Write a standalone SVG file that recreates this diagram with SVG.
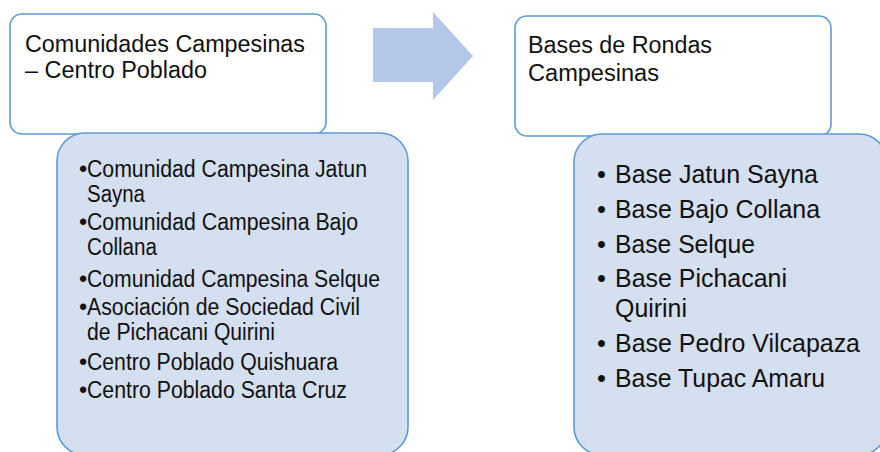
<svg xmlns="http://www.w3.org/2000/svg" width="880" height="452" viewBox="0 0 880 452">
<style>
.head{fill:#ffffff;stroke:#5B9BD5;stroke-width:1.6}
.sub{fill:#D4DFEF;stroke:#5B9BD5;stroke-width:1.6}
.t{font-family:"Liberation Sans",Arial,sans-serif;fill:#111111}
.h{font-size:23.5px}
.l{font-size:23.5px}
.r{font-size:25.5px}
</style>
<rect width="880" height="452" fill="#ffffff"/>
<g id="connectors">
<polygon points="373,28 433,28 433,12 473,56 433,100 433,82 373,82" fill="#B4C7E7"/>
</g>
<g id="node-comunidades">
<rect class="head" x="10" y="14" width="316" height="120" rx="12"/>
<text class="t h" x="25" y="52" textLength="280" lengthAdjust="spacingAndGlyphs">Comunidades Campesinas</text>
<text class="t h" x="25" y="78" textLength="182" lengthAdjust="spacingAndGlyphs">– Centro Poblado</text>
</g>
<g id="node-comunidades-list">
<rect class="sub" x="57" y="133" width="351" height="322" rx="28"/>
<g class="t l">
<text x="79" y="177">•</text><text x="87" y="177" textLength="280" lengthAdjust="spacingAndGlyphs">Comunidad  Campesina Jatun</text>
<text x="87" y="202" textLength="58" lengthAdjust="spacingAndGlyphs">Sayna</text>
<text x="79" y="230">•</text><text x="87" y="230" textLength="271" lengthAdjust="spacingAndGlyphs">Comunidad  Campesina Bajo</text>
<text x="87" y="255" textLength="70" lengthAdjust="spacingAndGlyphs">Collana</text>
<text x="79" y="287">•</text><text x="87" y="287" textLength="293" lengthAdjust="spacingAndGlyphs">Comunidad  Campesina Selque</text>
<text x="79" y="315">•</text><text x="87" y="315" textLength="273" lengthAdjust="spacingAndGlyphs">Asociación de Sociedad Civil</text>
<text x="87" y="340" textLength="188" lengthAdjust="spacingAndGlyphs">de Pichacani Quirini</text>
<text x="79" y="370">•</text><text x="87" y="370" textLength="251" lengthAdjust="spacingAndGlyphs">Centro Poblado  Quishuara</text>
<text x="79" y="398">•</text><text x="87" y="398" textLength="260" lengthAdjust="spacingAndGlyphs">Centro Poblado  Santa Cruz</text>
</g>
</g>
<g id="node-bases">
<rect class="head" x="515" y="16" width="316" height="120" rx="12"/>
<text class="t h" x="528" y="53" textLength="184" lengthAdjust="spacingAndGlyphs">Bases de Rondas</text>
<text class="t h" x="528" y="81" textLength="131" lengthAdjust="spacingAndGlyphs">Campesinas</text>
</g>
<g id="node-bases-list">
<rect class="sub" x="574" y="134" width="313" height="321" rx="28"/>
<g class="t r">
<text x="597" y="183">•</text><text x="615" y="183" textLength="203" lengthAdjust="spacingAndGlyphs">Base Jatun Sayna</text>
<text x="597" y="218">•</text><text x="615" y="218" textLength="205" lengthAdjust="spacingAndGlyphs">Base Bajo Collana</text>
<text x="597" y="253">•</text><text x="615" y="253" textLength="140" lengthAdjust="spacingAndGlyphs">Base Selque</text>
<text x="597" y="287">•</text><text x="615" y="287" textLength="172" lengthAdjust="spacingAndGlyphs">Base Pichacani</text>
<text x="615" y="317" textLength="72" lengthAdjust="spacingAndGlyphs">Quirini</text>
<text x="597" y="352">•</text><text x="615" y="352" textLength="245" lengthAdjust="spacingAndGlyphs">Base Pedro  Vilcapaza</text>
<text x="597" y="387">•</text><text x="615" y="387" textLength="210" lengthAdjust="spacingAndGlyphs">Base Tupac Amaru</text>
</g>
</g>
</svg>
